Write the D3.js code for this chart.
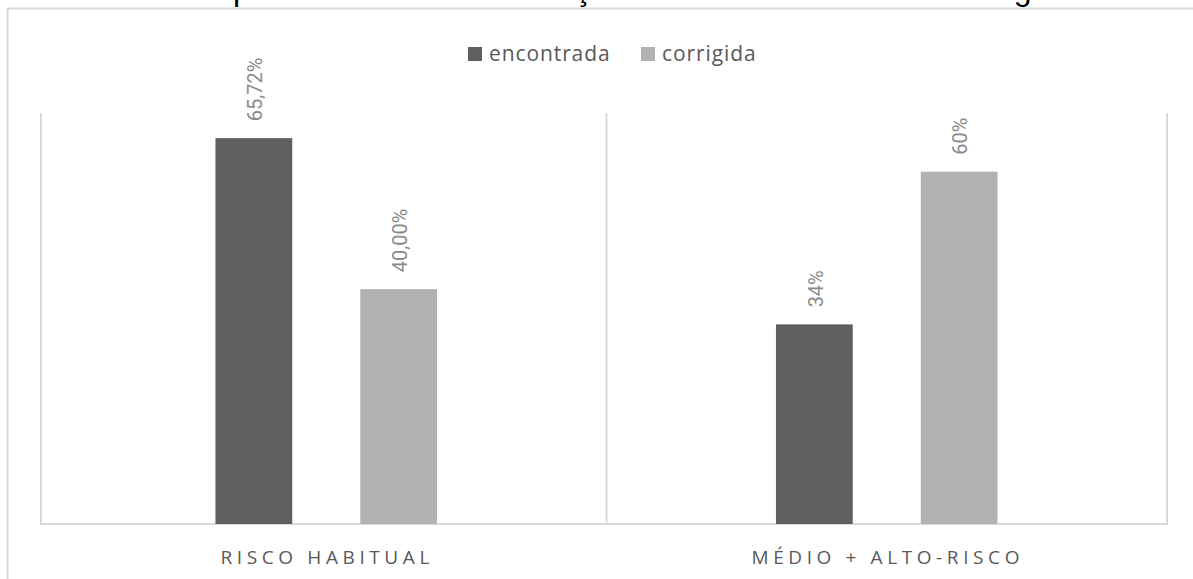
<!DOCTYPE html>
<html>
<head>
<meta charset="utf-8">
<script src="https://cdn.jsdelivr.net/npm/d3@7"></script>
<style>
  body { margin: 0; background: #fff; }
  svg { display: block; }
</style>
</head>
<body>
<div id="chart"></div>
<script>
// data
let categories = ["RISCO HABITUAL", "MÉDIO + ALTO-RISCO"];
let seriesNames = ["encontrada", "corrigida"];
let encontrada = [65.72, 34];
let corrigida = [40, 60];
let valueLabels = [["65,72%", "34%"], ["40,00%", "60%"]];
let seriesColors = ["#5f5f5f", "#b2b2b2"];
let titleText = "Gráfico 1 – Comparativo entre estratificação de risco encontrada e corrigida";

let width = 1193, height = 579;
let svg = d3.select("#chart").append("svg")
	.attr("width", width)
	.attr("height", height);

// title (cut off by top edge, as in the original)
svg.append("text")
	.attr("x", 0)
	.attr("y", 0)
	.style("font-family", "Liberation Sans, Arial, sans-serif")
	.style("font-size", "32px")
	.attr("fill", "#000")
	.text(titleText);

// outer chart border
svg.append("rect")
	.attr("x", 7.5).attr("y", 8.5)
	.attr("width", 1300).attr("height", 700)
	.attr("fill", "none")
	.attr("stroke", "#d9d9d9")
	.attr("stroke-width", 2);

let plotLeft = 46, plotRight = 1167, plotTop = 113, plotBottom = 524;

let x0 = d3.scaleBand().domain(categories).range([plotLeft, plotRight]).padding(0);
let x1 = d3.scaleBand().domain(seriesNames).range([0, x0.bandwidth()])
	.paddingInner(0.47).paddingOuter(1.17);
let y = d3.scaleLinear().domain([0, 70]).range([plotBottom, plotTop]);

let values = [encontrada, corrigida];
let rows = [];
seriesNames.forEach(function(s, si){
	categories.forEach(function(c, ci){
		rows.push({cat: c, series: s, value: values[si][ci], label: valueLabels[si][ci], color: seriesColors[si]});
	});
});

// plot frame: category separators + baseline
let sepX = [plotLeft - 5].concat(categories.map(function(c){ return x0(c) + x0.bandwidth(); }));
svg.append("g").selectAll("line")
	.data(sepX)
	.enter().append("line")
	.attr("x1", function(d){ return d; })
	.attr("x2", function(d){ return d; })
	.attr("y1", y(70))
	.attr("y2", y(0))
	.attr("stroke", "#d9d9d9")
	.attr("stroke-width", 2);
svg.append("line")
	.attr("x1", plotLeft - 6).attr("x2", plotRight + 1)
	.attr("y1", y(0)).attr("y2", y(0))
	.attr("stroke", "#d9d9d9")
	.attr("stroke-width", 2);

// bars
let g = svg.append("g");
g.selectAll("rect")
	.data(rows)
	.enter().append("rect")
	.attr("x", function(d){ return x0(d.cat) + x1(d.series); })
	.attr("y", function(d){ return y(d.value); })
	.attr("width", x1.bandwidth())
	.attr("height", function(d){ return y(0) - y(d.value); })
	.attr("fill", function(d){ return d.color; });

// value labels, rotated
g.selectAll(".vlabel")
	.data(rows)
	.enter().append("text")
	.attr("class", "vlabel")
	.attr("transform", function(d){
		let cx = x0(d.cat) + x1(d.series) + x1.bandwidth() / 2 + 1;
		return "translate(" + cx + "," + (y(d.value) - 17) + ") rotate(-90)";
	})
	.attr("dy", "0.36em")
	.style("font-family", "Roboto, sans-serif")
	.style("font-size", "20px")
	.attr("fill", "#8a8a8a")
	.text(function(d){ return d.label; });

// category labels
svg.append("g").selectAll("text")
	.data(categories)
	.enter().append("text")
	.attr("x", function(d){ return x0(d) + x0.bandwidth() / 2 + 1; })
	.attr("y", 564)
	.attr("text-anchor", "middle")
	.style("font-family", "Open Sans, sans-serif")
	.style("font-size", "19px")
	.style("letter-spacing", "4.6px")
	.attr("fill", "#595959")
	.text(function(d){ return d; });

// legend
let legendX = [468, 641];
let legend = svg.append("g").selectAll("g")
	.data(seriesNames)
	.enter().append("g")
	.attr("transform", function(d, i){ return "translate(" + legendX[i] + ",47)"; });
legend.append("rect")
	.attr("width", 14).attr("height", 14)
	.attr("fill", function(d, i){ return seriesColors[i]; });
legend.append("text")
	.attr("x", 21)
	.attr("y", 14)
	.style("font-family", "Open Sans, sans-serif")
	.style("font-size", "21px")
	.style("letter-spacing", "0.9px")
	.attr("fill", "#595959")
	.text(function(d){ return d; });
</script>
</body>
</html>
